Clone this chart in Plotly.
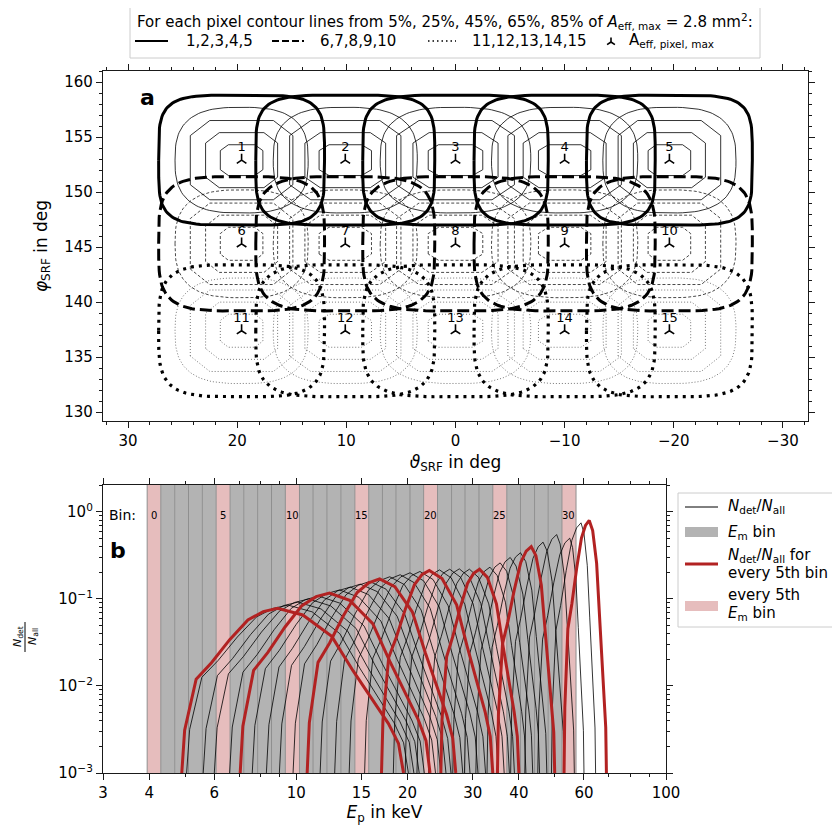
import numpy as np
import plotly.graph_objects as go

# ---------------- panel a data ----------------
pixel_ids = list(range(1, 16))
col_theta = [19.6, 10.1, 0.0, -10.0, -19.6]          # deg, columns of pixels
row_phi = [152.9, 145.3, 137.4]                        # deg, rows of pixels
level_pct = [5, 25, 45, 65, 85]
col_halfwidth = [[7.6, 6.1, 4.7, 3.3, 1.95],
                 [8.2, 6.6, 5.1, 3.7, 2.4],
                 [8.5, 6.9, 5.4, 3.9, 2.5],
                 [8.3, 6.7, 5.2, 3.8, 2.4],
                 [7.6, 6.1, 4.7, 3.3, 1.95]]
row_halfheight = [[5.9, 4.8, 3.6, 2.5, 1.4],
                  [6.1, 4.9, 3.7, 2.6, 1.5],
                  [6.0, 4.8, 3.7, 2.6, 1.5]]
theta_ticks = [30, 20, 10, 0, -10, -20, -30]
phi_ticks = [130, 135, 140, 145, 150, 155, 160]
legend_a_labels = ["1,2,3,4,5", "6,7,8,9,10", "11,12,13,14,15", "A<sub>eff, pixel, max</sub>"]

# ---------------- panel b data ----------------
bin_edges = [3.95, 4.30, 4.69, 5.11, 5.57, 6.07, 6.62, 7.21, 7.86, 8.57, 9.34,
             10.2, 11.1, 12.1, 13.2, 14.4, 15.7, 17.1, 18.6, 20.3, 22.1, 24.1,
             26.3, 28.6, 31.2, 34.0, 37.1, 40.4, 44.1, 48.0, 52.3, 57.1]
curve_rise = [4.9, 5.05, 5.6, 6.0, 6.6, 7.05, 7.6, 8.3, 9.0, 9.8, 10.7, 11.6,
              12.7, 13.9, 15.3, 17.0, 18.3, 19.7, 21.2, 22.8, 24.6, 26.5, 28.5,
              30.6, 32.8, 35.0, 38.0, 41.5, 45.0, 49.0, 53.0]
curve_peak_e = [8.9, 9.5, 10.1, 10.8, 11.5, 12.3, 13.1, 14.0, 14.9, 15.8, 16.8,
                17.9, 19.1, 20.3, 21.6, 22.9, 24.4, 26.0, 27.6, 29.4, 31.3, 33.4,
                35.6, 37.9, 40.4, 43.2, 46.5, 50.6, 54.9, 58.9, 62.0]
curve_peak_h = [0.078, 0.085, 0.092, 0.100, 0.108, 0.117, 0.127, 0.137, 0.148,
                0.159, 0.170, 0.180, 0.190, 0.200, 0.207, 0.213, 0.216, 0.220,
                0.222, 0.220, 0.220, 0.232, 0.26, 0.30, 0.34, 0.40, 0.45, 0.55,
                0.50, 0.75, 0.80]
curve_fall = [19.5, 20.1, 20.8, 21.5, 22.2, 23.0, 23.8, 24.6, 25.4, 26.2, 27.0,
              28.2, 29.5, 31.0, 32.5, 34.0, 35.2, 36.5, 37.7, 38.9, 40.0, 41.8,
              43.6, 45.5, 47.6, 50.0, 53.0, 56.5, 60.0, 64.5, 69.0]
# common profile shape of one response curve (normalised, read from bin 0 / bin 30)
rise_u = [0, 0.03, 0.15, 0.31, 0.5, 0.69, 0.85, 1.0]
rise_v = [0, 0.26, 0.57, 0.67, 0.81, 0.93, 0.98, 1.0]
fall_u = [0.2, 0.43, 0.6, 0.75, 0.88, 0.96, 1.0]
fall_v = [0.96, 0.83, 0.62, 0.45, 0.30, 0.18, 0.0]
e_ticks = [3, 4, 6, 10, 15, 20, 30, 40, 60, 100]
e_minor = [5, 7, 8, 9, 50, 70, 80, 90]

FONT = "DejaVu Sans"
OFF = 8                      # page body margin of the html page
W, H = 832, 824
ML, MT = 103 - OFF, 71 - OFF
MR = W - (808 - OFF)
MB = H - (773 - OFF)
PW, PH = W - ML - MR, H - MT - MB


def px(x):
    """screen x pixel -> paper coordinate"""
    return (x - OFF - ML) / PW


def py(y):
    """screen y pixel -> paper coordinate"""
    return (H - MB - (y - OFF)) / PH


fig = go.Figure()


def rounded_rect(cx, cy, a, b, n, m=120):
    t = np.linspace(0, 2 * np.pi, m + 1)
    c, s = np.cos(t), np.sin(t)
    x = cx + a * np.sign(c) * np.abs(c) ** (2 / n)
    y = cy + b * np.sign(s) * np.abs(s) ** (2 / n)
    return list(x), list(y)


def octagon(cx, cy, a, b, cut=0.42):
    xs = [a, a, a * (1 - cut), -a * (1 - cut), -a, -a, -a * (1 - cut), a * (1 - cut), a]
    ys = [-b * (1 - cut), b * (1 - cut), b, b, b * (1 - cut), -b * (1 - cut), -b, -b, -b * (1 - cut)]
    return [cx + v for v in xs], [cy + v for v in ys]


row_styles = [
    dict(thin=dict(color="#000000", width=0.8, dash="solid"),
         thick=dict(color="#000000", width=3, dash="solid"), n_out=4.5),
    dict(thin=dict(color="#1a1a1a", width=0.8, dash="3px,2px"),
         thick=dict(color="#000000", width=3, dash="12px,5px"), n_out=4.0),
    dict(thin=dict(color="#555555", width=0.8, dash="1px,2px"),
         thick=dict(color="#000000", width=3.2, dash="3px,5px"), n_out=4.0),
]

# thin inner contours
for r in [2, 1, 0]:
    for lv in range(1, 5):
        xs, ys = [], []
        for c in range(5):
            if lv == 1:
                x, y = rounded_rect(col_theta[c], row_phi[r], col_halfwidth[c][lv],
                                    row_halfheight[r][lv], 2.8)
            else:
                x, y = octagon(col_theta[c], row_phi[r], col_halfwidth[c][lv],
                               row_halfheight[r][lv], 0.38)
            xs += x + [None]
            ys += y + [None]
        fig.add_trace(go.Scatter(x=xs, y=ys, mode="lines", line=row_styles[r]["thin"],
                                 showlegend=False, hoverinfo="skip", xaxis="x", yaxis="y"))
# thick outer contours
for r in [2, 1, 0]:
    xs, ys = [], []
    for c in range(5):
        x, y = rounded_rect(col_theta[c], row_phi[r], col_halfwidth[c][0],
                            row_halfheight[r][0], row_styles[r]["n_out"])
        xs += x + [None]
        ys += y + [None]
    fig.add_trace(go.Scatter(x=xs, y=ys, mode="lines", line=row_styles[r]["thick"],
                             showlegend=False, hoverinfo="skip", xaxis="x", yaxis="y"))

# maxima markers with pixel numbers
mx = [col_theta[(p - 1) % 5] for p in pixel_ids]
my = [row_phi[(p - 1) // 5] for p in pixel_ids]
fig.add_trace(go.Scatter(x=mx, y=my, mode="markers+text", text=[str(p) for p in pixel_ids],
                         textposition="top center", textfont=dict(size=13, color="black", family=FONT),
                         marker=dict(symbol="y-up", size=8, color="black",
                                     line=dict(width=1.6, color="black")),
                         showlegend=False, xaxis="x", yaxis="y"))

# ---------------- panel b ----------------
GRAY = "#b3b3b3"
PINK = "#e6bdbd"
shapes = []
for k in range(len(bin_edges) - 1):
    fill = PINK if k % 5 == 0 else GRAY
    shapes.append(dict(type="rect", xref="x2", yref="y2 domain", x0=bin_edges[k], x1=bin_edges[k + 1],
                       y0=0, y1=1, fillcolor=fill, line=dict(width=0), layer="below"))
for k in range(len(bin_edges)):
    shapes.append(dict(type="line", xref="x2", yref="y2 domain", x0=bin_edges[k], x1=bin_edges[k],
                       y0=0, y1=1, line=dict(color="#8f8f8f", width=1), layer="below"))

RED = "#b22222"
order = [k for k in range(31) if k % 5 != 0] + [k for k in range(31) if k % 5 == 0]
for k in order:
    lr, lp, lf = np.log10(curve_rise[k]), np.log10(curve_peak_e[k]), np.log10(curve_fall[k])
    lh = np.log10(curve_peak_h[k])
    le = [lr + u * (lp - lr) for u in rise_u] + [lp + u * (lf - lp) for u in fall_u]
    ly = [-3 + v * (lh + 3) for v in rise_v] + [-3 + v * (lh + 3) for v in fall_v]
    red = (k % 5 == 0)
    fig.add_trace(go.Scatter(x=[10 ** v for v in le], y=[10 ** v for v in ly], mode="lines",
                             line=dict(color=RED if red else "black", width=3 if red else 0.8),
                             showlegend=False, hoverinfo="skip", xaxis="x2", yaxis="y2"))

annotations = []


def add_text(text, x, y, size, xanchor="center", angle=0, yanchor="middle"):
    annotations.append(dict(text=text, x=px(x), y=py(y), xref="paper", yref="paper", xanchor=xanchor,
                            yanchor=yanchor, textangle=angle, showarrow=False,
                            font=dict(size=size, family=FONT, color="black")))


add_text("<b>a</b>", 147, 97, 22)
add_text("<b>b</b>", 118, 550, 22)
add_text("Bin:", 107, 515, 14, xanchor="left")
for k in range(0, 31, 5):
    annotations.append(dict(text=str(k), x=np.log10(np.sqrt(bin_edges[k] * bin_edges[k + 1])), y=py(515),
                            xref="x2", yref="paper", showarrow=False,
                            font=dict(size=10, family=FONT, color="black")))
# fraction-style y title of panel b
add_text("<i>N</i><sub>det</sub>", 18, 637, 11, angle=-90)
add_text("<i>N</i><sub>all</sub>", 33, 637, 11, angle=-90)
shapes.append(dict(type="line", xref="paper", yref="paper", x0=px(25), x1=px(25), y0=py(622), y1=py(652),
                   line=dict(color="black", width=1)))

# ---- legend of panel a (drawn as box + samples + text) ----
shapes.append(dict(type="rect", xref="paper", yref="paper", x0=px(130), x1=px(760), y0=py(1), y1=py(58),
                   line=dict(color="#cccccc", width=1), fillcolor="white", layer="above"))
add_text("For each pixel contour lines from 5%, 25%, 45%, 65%, 85% of "
         "<i>A</i><sub>eff, max</sub> = 2.8 mm<sup>2</sup>:", 445, 9, 15, yanchor="top")
LY = 41
shapes.append(dict(type="line", xref="paper", yref="paper", x0=px(135), x1=px(168), y0=py(LY), y1=py(LY),
                   line=dict(color="black", width=2.2)))
shapes.append(dict(type="line", xref="paper", yref="paper", x0=px(272), x1=px(304), y0=py(LY), y1=py(LY),
                   line=dict(color="black", width=2.2, dash="7px,3px")))
shapes.append(dict(type="line", xref="paper", yref="paper", x0=px(428), x1=px(456), y0=py(LY), y1=py(LY),
                   line=dict(color="black", width=1.5, dash="1.5px,3px")))
mxp, myp, r = 611, LY + 1, 4.5
shapes.append(dict(type="path", xref="paper", yref="paper",
                   path=(f"M{px(mxp)},{py(myp)} L{px(mxp)},{py(myp - r)} "
                         f"M{px(mxp)},{py(myp)} L{px(mxp - r * 0.87)},{py(myp + r * 0.6)} "
                         f"M{px(mxp)},{py(myp)} L{px(mxp + r * 0.87)},{py(myp + r * 0.6)}"),
                   line=dict(color="black", width=1.6)))
add_text(legend_a_labels[0], 184, LY, 15, xanchor="left")
add_text(legend_a_labels[1], 318, LY, 15, xanchor="left")
add_text(legend_a_labels[2], 470, LY, 15, xanchor="left")
add_text(legend_a_labels[3], 627, LY, 15, xanchor="left")

# ---- legend of panel b ----
shapes.append(dict(type="rect", xref="paper", yref="paper", x0=px(678), x1=px(850), y0=py(493), y1=py(627),
                   line=dict(color="#cccccc", width=1), fillcolor="white", layer="above"))
shapes.append(dict(type="line", xref="paper", yref="paper", x0=px(685), x1=px(718), y0=py(507), y1=py(507),
                   line=dict(color="black", width=1)))
shapes.append(dict(type="rect", xref="paper", yref="paper", x0=px(685), x1=px(718), y0=py(537), y1=py(527),
                   line=dict(width=0), fillcolor=GRAY))
shapes.append(dict(type="line", xref="paper", yref="paper", x0=px(685), x1=px(718), y0=py(564), y1=py(564),
                   line=dict(color=RED, width=3)))
shapes.append(dict(type="rect", xref="paper", yref="paper", x0=px(685), x1=px(718), y0=py(611), y1=py(601),
                   line=dict(width=0), fillcolor=PINK))
add_text("<i>N</i><sub>det</sub>/<i>N</i><sub>all</sub>", 726, 507, 15, xanchor="left")
add_text("<i>E</i><sub>m</sub> bin", 726, 532, 15, xanchor="left")
add_text("<i>N</i><sub>det</sub>/<i>N</i><sub>all</sub> for", 726, 555, 15, xanchor="left")
add_text("every 5th bin", 726, 573, 15, xanchor="left")
add_text("every 5th", 726, 595, 15, xanchor="left")
add_text("<i>E</i><sub>m</sub> bin", 726, 613, 15, xanchor="left")

axis_common = dict(showline=True, linecolor="#1a1a1a", linewidth=1.3, mirror="ticks", ticks="outside",
                   tickcolor="#1a1a1a", tickwidth=1.3, ticklen=6, showgrid=False, zeroline=False,
                   tickfont=dict(size=15, family=FONT, color="black"))

fig.update_layout(
    width=W, height=H, margin=dict(l=ML, r=MR, t=MT, b=MB, autoexpand=False),
    plot_bgcolor="white", paper_bgcolor="white", showlegend=False,
    font=dict(family=FONT, color="black"),
    xaxis=dict(domain=[0, 1], anchor="y", range=[32.3, -32.3], tickvals=theta_ticks,
               ticktext=[str(v).replace("-", "\u2212") for v in theta_ticks],
               minor=dict(dtick=2, tick0=0, ticks="outside", ticklen=3, tickcolor="#1a1a1a"),
               title=dict(text="<i>\u03d1</i><sub>SRF</sub> in deg", font=dict(size=17, family=FONT), standoff=6),
               **axis_common),
    yaxis=dict(domain=[py(421), 1], anchor="x", range=[129.2, 161.0], tickvals=phi_ticks,
               minor=dict(dtick=1, tick0=0, ticks="outside", ticklen=3, tickcolor="#1a1a1a"),
               title=dict(text="<i>\u03c6</i><sub>SRF</sub> in deg", font=dict(size=17, family=FONT), standoff=12),
               **axis_common),
    xaxis2=dict(domain=[0, px(666)], anchor="y2", type="log", range=[np.log10(3), 2], tickvals=e_ticks,
                ticktext=[str(v) for v in e_ticks],
                minor=dict(tickvals=e_minor, ticks="outside", ticklen=3, tickcolor="#1a1a1a"),
                title=dict(text="<i>E</i><sub>p</sub> in keV", font=dict(size=17, family=FONT), standoff=4),
                **axis_common),
    yaxis2=dict(domain=[0, py(485)], anchor="x2", type="log", range=[-3, 0.31],
                tickvals=[1e-3, 1e-2, 1e-1, 1],
                ticktext=["10<sup>\u22123</sup>", "10<sup>\u22122</sup>", "10<sup>\u22121</sup>", "10<sup>0</sup>"],
                minor=dict(tickvals=[m * 10 ** d for d in range(-3, 1) for m in range(2, 10)],
                           ticks="outside", ticklen=3, tickcolor="#1a1a1a"),
                **axis_common),
    shapes=shapes, annotations=annotations,
)

fig.write_html("out.html")
